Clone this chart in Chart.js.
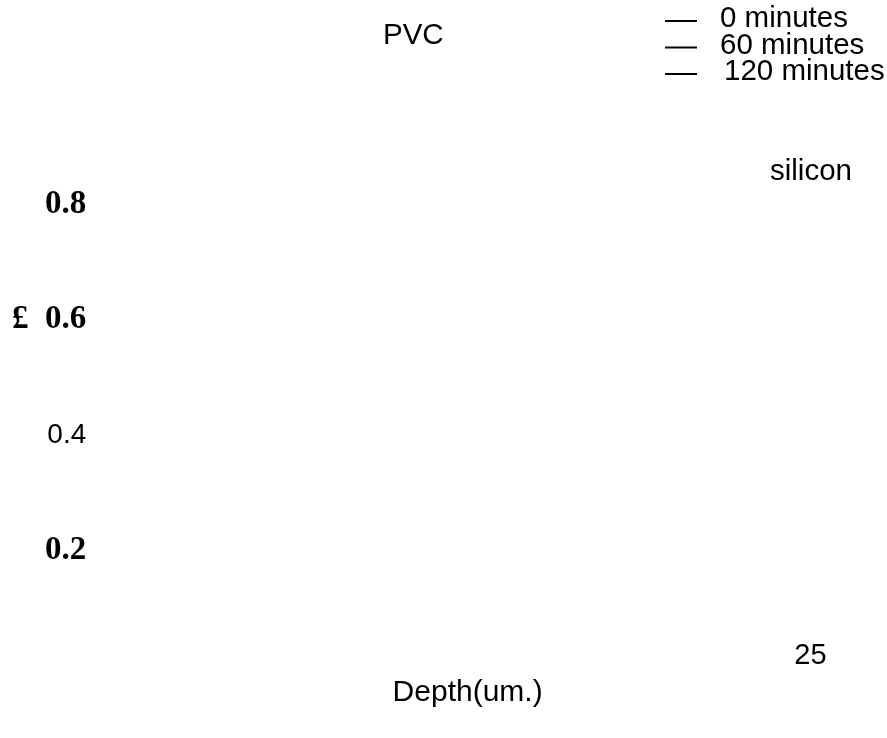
<!DOCTYPE html>
<html>
<head>
<meta charset="utf-8">
<title>PVC / silicon depth profile</title>
<script src="https://cdn.jsdelivr.net/npm/chart.js@4/dist/chart.umd.min.js"></script>
<style>
  html, body { margin: 0; padding: 0; background: #fff; }
  #wrap { width: 887px; height: 738px; }
</style>
</head>
<body>
<div id="wrap"><canvas id="myChart" width="887" height="738"></canvas></div>
<script>
// series (no curve survives in the picture, only the legend)
const seriesNames = ['0 minutes', '60 minutes', '120 minutes'];
const seriesValues = [[], [], []];

// tick labels as they show up
const yTicks = [0.2, 0.4, 0.6, 0.8];
const yTickLabels = ['0.2', '0.4', '£  0.6', '0.8'];
const xTicks = [25];
const xTickLabels = ['25'];

const chartTitle = 'PVC';
const sideNote = 'silicon';
const xTitle = 'Depth(um.)';

const sans = 'Liberation Sans, Arial, sans-serif';
const serif = 'Liberation Serif, Times New Roman, serif';

// draws title, legend and the "silicon" note in the spots they had
const textBits = {
  id: 'textBits',
  afterDraw(chart) {
    const ctx = chart.ctx;
    ctx.save();
    ctx.fillStyle = '#000';
    ctx.font = '29.5px ' + sans;
    ctx.textBaseline = 'alphabetic';
    ctx.textAlign = 'left';
    ctx.fillText(chartTitle, 383, 44);
    ctx.fillText(sideNote, 770, 180);

    chart.data.datasets.forEach((ds, i) => {
      const y = 27 + i * 26.5;
      ctx.strokeStyle = ds.borderColor;
      ctx.lineWidth = 2;
      ctx.beginPath();
      ctx.moveTo(665, y - 6);
      ctx.lineTo(697, y - 6);
      ctx.stroke();
      ctx.fillText(ds.label, i === 2 ? 724 : 720, y);
    });
    ctx.restore();
  }
};

const data = {
  datasets: seriesNames.map((name, i) => ({
    label: name,
    data: seriesValues[i],
    borderColor: '#000',
    backgroundColor: '#000',
    borderWidth: 2,
    pointRadius: 0
  }))
};

const config = {
  type: 'line',
  data,
  options: {
    responsive: false,
    animation: false,
    layout: {
      padding: { left: 2, right: 48, top: 98, bottom: 23 }
    },
    plugins: {
      legend: { display: false },
      title: { display: false },
      tooltip: { enabled: false }
    },
    scales: {
      x: {
        type: 'linear',
        min: 0,
        max: 26,
        grid: { display: false, drawTicks: false },
        border: { display: false },
        afterBuildTicks: (axis) => { axis.ticks = xTicks.map(v => ({ value: v })); },
        ticks: {
          color: '#000',
          padding: -4,
          font: { family: sans, size: 29 },
          callback: (v) => xTickLabels[xTicks.indexOf(v)]
        },
        title: {
          display: true,
          text: xTitle,
          color: '#000',
          font: { family: sans, size: 30 },
          padding: { top: 6, bottom: 4 }
        }
      },
      y: {
        type: 'linear',
        min: 0.04,
        max: 0.985,
        grid: { display: false, drawTicks: false },
        border: { display: false },
        afterBuildTicks: (axis) => { axis.ticks = yTicks.map(v => ({ value: v })); },
        ticks: {
          color: '#000',
          padding: 10,
          font: (c) => (c.tick && c.tick.value === 0.4)
            ? { family: sans, size: 28 }
            : { family: serif, size: 33, weight: 'bold' },
          callback: (v) => yTickLabels[yTicks.indexOf(v)]
        }
      }
    }
  },
  plugins: [textBits]
};

const myChart = new Chart(document.getElementById('myChart'), config);
</script>
</body>
</html>
